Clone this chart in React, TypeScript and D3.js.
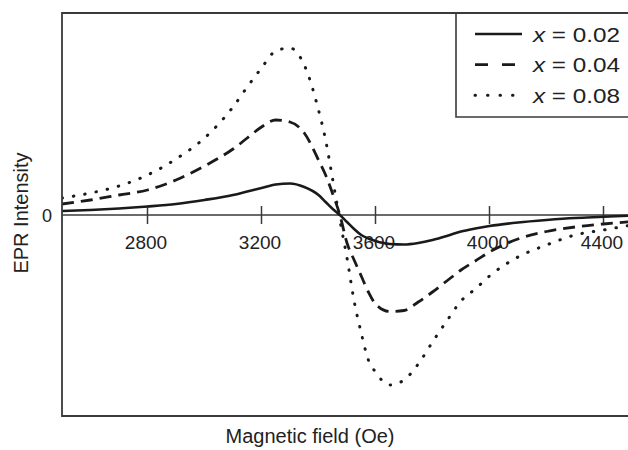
import React from 'react';
import * as d3 from 'd3';

// magnetic field grid (Oe) and derivative EPR signal (arb. units)
const field = [
  2500, 2600, 2700, 2800, 2900, 3000, 3100, 3150, 3200, 3250, 3300, 3350, 3400, 3425, 3450,
  3475, 3500, 3525, 3550, 3575, 3600, 3650, 3700, 3750, 3800, 3850, 3900, 3950, 4000, 4100,
  4200, 4300, 4400, 4500,
];
const x002 = [
  4, 5, 6.5, 8.5, 11, 15, 20, 23.5, 27, 30.5, 31.5, 28, 20, 13, 6,
  0, -7, -14, -20, -23.5, -26, -29, -29.5, -28, -25, -21, -16.5, -13.5, -11, -7.5,
  -5, -3, -1.8, -0.5,
];
const x004 = [
  11, 15, 20, 25, 35, 49, 66, 77, 88, 95, 93, 82, 55, 40, 21,
  0, -28, -45, -61, -77, -89, -96.5, -95.5, -87, -77, -66, -55, -46, -37, -24,
  -16.5, -12, -9, -6.5,
];
const x008 = [
  17, 22, 29, 40, 56, 77, 108, 128, 147, 164, 167, 150, 105, 75, 35,
  -5, -43, -86, -118, -145, -157, -170, -165, -149, -127, -106, -86, -74, -61, -42,
  -30, -20, -15, -10,
];
const xTicks = [2800, 3200, 3600, 4000, 4400];
const seriesNames = ['0.02', '0.04', '0.08'];
const seriesValues = [x002, x004, x008];
const dashes = ['none', '12,7', '0.5,11'];
const widths = [2.6, 2.8, 3];

const W = 628;
const H = 450;
const left = 62;
const top = 13;
const bottom = 416;

export default function App() {
  const x = d3.scaleLinear().domain([2500, 4500]).range([left, left + 2000 * 0.285]);
  const y = d3.scaleLinear().domain([-201, 202]).range([bottom, top]);
  const line = d3
    .line<number>()
    .x((_, i) => x(field[i]))
    .y((d) => y(d))
    .curve(d3.curveMonotoneX);
  const font = 'Liberation Sans, Arial, Helvetica, sans-serif';
  const ink = '#1a1a1a';
  const frame = '#3a3a3a';

  return (
    <svg width={W} height={H} style={{ position: 'absolute', left: 0, top: 0, background: '#fff' }}>
      <defs>
        <clipPath id="plot">
          <rect x={left} y={top} width={W - left} height={bottom - top} />
        </clipPath>
      </defs>
      <rect x={0} y={0} width={W} height={H} fill="#fff" />

      {/* zero line and ticks */}
      <line x1={left} x2={W} y1={y(0)} y2={y(0)} stroke={frame} strokeWidth={1.6} />
      {xTicks.map((t) => (
        <g key={t}>
          <line x1={x(t)} x2={x(t)} y1={y(0) - 9} y2={y(0) + 9} stroke={frame} strokeWidth={1.5} />
          <text x={x(t) - 1.5} y={249} textAnchor="middle" fontFamily={font} fontSize={19} fill="#222">
            {t}
          </text>
        </g>
      ))}
      <text x={52} y={221.5} textAnchor="end" fontFamily={font} fontSize={18} fill="#222">
        0
      </text>

      {/* curves */}
      <g clipPath="url(#plot)">
        {seriesValues.map((vals, i) => (
          <path
            key={i}
            d={line(vals) ?? ''}
            fill="none"
            stroke={ink}
            strokeWidth={widths[i]}
            strokeDasharray={dashes[i]}
            strokeLinecap={i === 2 ? 'round' : 'butt'}
          />
        ))}
      </g>

      {/* frame (right side runs off the page) */}
      <path
        d={`M${W + 5},${top}H${left}V${bottom}H${W + 5}`}
        fill="none"
        stroke={frame}
        strokeWidth={1.8}
      />

      {/* legend */}
      <path d={`M456,${top}V117H${W + 5}`} fill="none" stroke={frame} strokeWidth={1.6} />
      {seriesNames.map((name, i) => {
        const ly = 34 + i * 30.6;
        return (
          <g key={name}>
            <line
              x1={475}
              x2={522}
              y1={ly}
              y2={ly}
              stroke={ink}
              strokeWidth={widths[i]}
              strokeDasharray={i === 1 ? '13,14' : i === 2 ? '0.5,12' : 'none'}
              strokeLinecap={i === 2 ? 'round' : 'butt'}
            />
            <text
              x={533}
              y={ly + 7.6}
              fontFamily={font}
              fontSize={20}
              fill="#222"
              textLength={87}
              lengthAdjust="spacingAndGlyphs"
            >
              <tspan fontStyle="italic">x</tspan>
              {' = ' + name}
            </text>
          </g>
        );
      })}

      {/* axis titles */}
      <text x={310} y={443} textAnchor="middle" fontFamily={font} fontSize={20} fill="#222">
        Magnetic field (Oe)
      </text>
      <text
        transform="translate(28,213) rotate(-90)"
        textAnchor="middle"
        fontFamily={font}
        fontSize={20}
        fill="#222"
      >
        EPR Intensity
      </text>
    </svg>
  );
}
